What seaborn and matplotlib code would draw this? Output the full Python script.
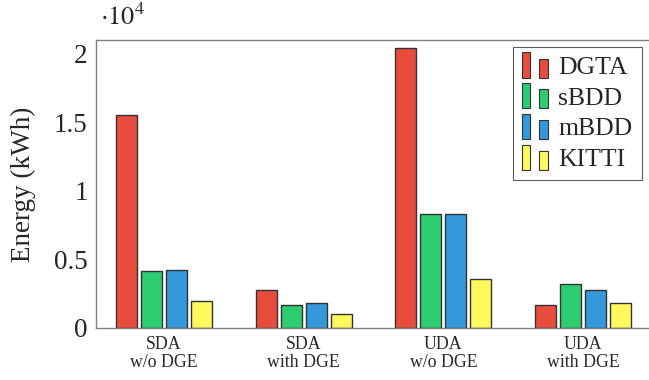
import pandas as pd
import matplotlib
matplotlib.use('Agg')
import matplotlib.pyplot as plt
import seaborn as sns
from matplotlib.patches import Rectangle
from matplotlib.legend_handler import HandlerBase
from matplotlib.ticker import FuncFormatter, FixedLocator

scenarios = ['SDA\nw/o DGE', 'SDA\nwith DGE', 'UDA\nw/o DGE', 'UDA\nwith DGE']
methods = ['DGTA', 'sBDD', 'mBDD', 'KITTI']
colors = ['#E74C3C', '#2ECC71', '#3498DB', '#FFF95E']

dgta = [15500, 2800, 20400, 1700]
sbdd = [4180, 1700, 8300, 3200]
mbdd = [4250, 1850, 8300, 2750]
kitti = [1950, 1050, 3580, 1850]

rows = []
for m, vals in zip(methods, [dgta, sbdd, mbdd, kitti]):
    for s, v in zip(scenarios, vals):
        rows.append({'scenario': s, 'method': m, 'energy': v})
df = pd.DataFrame(rows)

sns.set_style('white')
plt.rcParams['font.family'] = ['Liberation Serif', 'DejaVu Serif']
plt.rcParams['mathtext.fontset'] = 'stix'

fig = plt.figure(figsize=(6.49, 3.80), dpi=100)
ax = fig.add_axes([0.148, 0.137, 0.855, 0.758])

sns.barplot(data=df, x='scenario', y='energy', hue='method', palette=colors,
            saturation=1, width=0.716, gap=0.16, edgecolor='#333333', linewidth=1,
            ax=ax, legend=False)

ax.set_xlim(-0.487, 3.487)
ax.set_ylim(0, 21000)
ax.yaxis.set_major_locator(FixedLocator([0, 5000, 10000, 15000, 20000]))
ax.yaxis.set_major_formatter(FuncFormatter(lambda v, p: '%g' % (v / 1e4)))
ax.set_xticks(range(4))
ax.set_xticklabels(scenarios, fontsize=12.8, linespacing=1.05)
ax.xaxis.set_minor_locator(FixedLocator([0.5, 1.5, 2.5]))
ax.tick_params(axis='x', which='major', length=0, pad=6)
ax.tick_params(axis='x', which='minor', direction='in', length=4, color='#888888')
ax.tick_params(axis='y', direction='in', length=5, color='#888888', labelsize=19.5, pad=6)
ax.set_xlabel('')
ax.set_ylabel('Energy (kWh)', fontsize=19.5)
ax.yaxis.set_label_coords(-0.108, 0.5)
for sp in ax.spines.values():
    sp.set_color('#808080')
    sp.set_linewidth(1)

ax.text(0.008, 1.035, r'$\cdot 10^4$', transform=ax.transAxes, fontsize=19,
        ha='left', va='bottom')


class TwoBars(HandlerBase):
    def create_artists(self, legend, orig, xd, yd, w, h, fontsize, trans):
        fc = orig.get_facecolor()
        r1 = Rectangle((xd, yd - 0.2 * h), 0.28 * w, 1.4 * h, facecolor=fc,
                       edgecolor='#333333', lw=0.8, transform=trans)
        r2 = Rectangle((xd + 0.6 * w, yd - 0.2 * h), 0.32 * w, 1.05 * h, facecolor=fc,
                       edgecolor='#333333', lw=0.8, transform=trans)
        return [r1, r2]


handles = [Rectangle((0, 0), 1, 1, facecolor=c) for c in colors]
leg = ax.legend(handles, methods, loc='upper right', fontsize=18.5,
                handler_map={Rectangle: TwoBars()}, handlelength=1.1,
                handletextpad=0.3, labelspacing=0.3, borderpad=0.35,
                borderaxespad=0.0, frameon=True, fancybox=False,
                bbox_to_anchor=(0.983, 0.975))
leg.get_frame().set_edgecolor('#333333')
leg.get_frame().set_linewidth(0.8)

plt.savefig('out.png', dpi=100)
